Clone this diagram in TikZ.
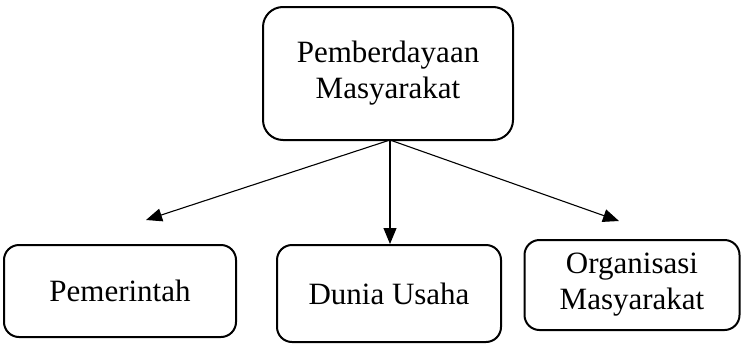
\documentclass[tikz,border=0pt]{standalone}
\usepackage{fontspec}
\setmainfont{Liberation Serif}
\usetikzlibrary{arrows.meta}
\begin{document}
\begin{tikzpicture}[x=1pt,y=-1pt,
  box/.style={draw,line width=2pt,rounded corners=15pt,align=center,inner sep=0pt,
    font=\fontsize{31}{36}\selectfont},
  conn/.style={line width=1.1pt,-{Triangle[length=16pt,width=13pt]}}]
\useasboundingbox (0,0) rectangle (741,343);
\node[box,rounded corners=20pt,minimum width=250pt,minimum height=133pt] (top) at (388,73.5) {Pemberdayaan\\Masyarakat};
\node[box,minimum width=232pt,minimum height=92pt] (pem) at (120,291) {Pemerintah};
\node[box,minimum width=224pt,minimum height=97pt] (dun) at (389,293.5) {Dunia Usaha};
\node[box,minimum width=215pt,minimum height=90pt] (org) at (632,285) {Organisasi\\Masyarakat};
\coordinate (o) at (390,140);
\coordinate (tl) at (146,220);
\coordinate (tr) at (619,221);
\draw[conn] (o) -- (tl);
\draw[conn] (o) -- (dun.north -| o);
\draw[conn] (o) -- (tr);
\end{tikzpicture}
\end{document}
